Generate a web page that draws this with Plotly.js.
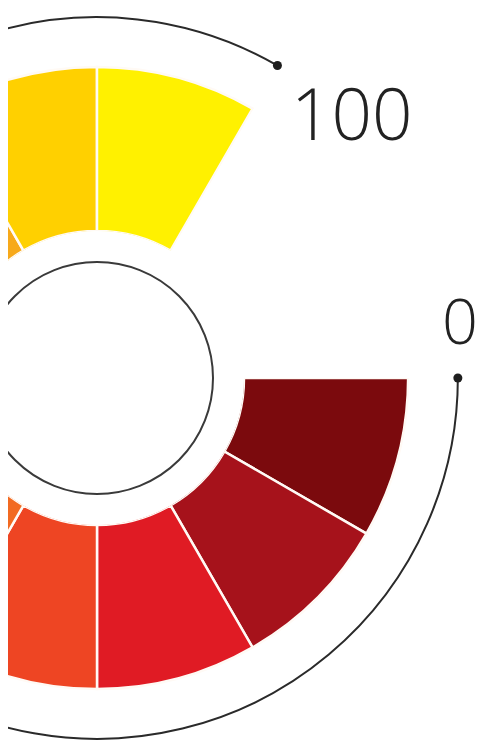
<!DOCTYPE html>
<html>
<head>
<meta charset="utf-8">
<script src="https://cdn.plot.ly/plotly-3.0.1.min.js"></script>
<style>
  html, body { margin: 0; padding: 0; background: #ffffff; overflow: hidden; width: 479px; height: 740px; }
  #clip { position: absolute; left: 8px; top: 0; width: 471px; height: 740px; overflow: hidden; background: #ffffff; }
  #chart { position: absolute; left: -311px; top: 16px; width: 800px; height: 724px; }
</style>
</head>
<body>
<div id="clip"><div id="chart"></div></div>
<script>
// ---- data (gauge bins, 0–100) ----
const binLabels = ["0–10", "10–20", "20–30", "30–40", "40–50", "50–60", "60–70", "70–80", "80–90", "90–100"];
const binStart  = [0, 10, 20, 30, 40, 50, 60, 70, 80, 90];
const binSize   = 10;
const barValue  = [1, 1, 1, 1, 1, 1, 1, 1, 1, 1];
const barColors = ["#7b0a0d", "#a6121b", "#e01b24", "#ee4523", "#f26a21", "#f68a1f", "#f89d1c", "#f7a91a", "#ffd000", "#fff100"];
const scaleMin  = 0;
const scaleMax  = 100;
const tickLabels = ["0", "100"];

// ---- styling / geometry ----
const DEG_PER_UNIT = 300 / (scaleMax - scaleMin);   // gauge spans 300°, clockwise from east
const R_MAX = 1.31;        // radial axis range
const ARC_R = 1.303;       // radius of the scale arc
const HOLE = 147 / 362;

const theta = binStart.map(v => (v - scaleMin + binSize / 2) * DEG_PER_UNIT);
const arcEnds = [scaleMin, scaleMax].map(v => (v - scaleMin) * DEG_PER_UNIT);

// div geometry: 800x724, polar centre at (400,362), outer radius 362
const W = 800, H = 724, CX = 400, CY = 362, ROUT = 362, RIN = 116;

const bars = {
  type: 'barpolar',
  r: barValue,
  theta: theta,
  width: binSize * DEG_PER_UNIT,
  text: binLabels,
  marker: { color: barColors, line: { color: '#fffaf5', width: 2.5 } },
  hoverinfo: 'skip',
  showlegend: false
};

const endDots = {
  type: 'scatterpolar',
  mode: 'markers',
  r: [ARC_R, ARC_R],
  theta: arcEnds,
  marker: { size: 9, color: '#1e1e1e' },
  cliponaxis: false,
  hoverinfo: 'skip',
  showlegend: false
};

const innerRing = {
  type: 'scatterpolar',
  subplot: 'polar2',
  mode: 'markers',
  r: [],
  theta: [],
  hoverinfo: 'skip',
  showlegend: false
};

// tick label placement: pixel radius and screen angle (ccw from east), converted to paper coords
function toPaper(rPx, angDeg) {
  const a = angDeg * Math.PI / 180;
  return { x: (CX + rPx * Math.cos(a)) / W, y: (H - CY + rPx * Math.sin(a)) / H };
}
const labelPos = [toPaper(367.6, 9.1), toPaper(368.5, 46.2)];
const labelSize = [63, 71];

const annotations = tickLabels.map((t, i) => ({
  xref: 'paper', yref: 'paper',
  x: labelPos[i].x, y: labelPos[i].y,
  xanchor: 'center', yanchor: 'middle',
  text: t,
  showarrow: false,
  font: { family: 'Open Sans, sans-serif', size: labelSize[i], color: '#222222', weight: 300 }
}));

const layout = {
  width: W, height: H,
  margin: { l: 0, r: 0, t: 0, b: 0 },
  paper_bgcolor: 'rgba(0,0,0,0)',
  showlegend: false,
  annotations: annotations,
  polar: {
    domain: { x: [0, 1], y: [0, 1] },
    sector: [59.8, 360],
    hole: HOLE,
    bgcolor: 'rgba(0,0,0,0)',
    bargap: 0,
    radialaxis: {
      range: [0, R_MAX],
      visible: true,
      showline: false,
      showticklabels: false,
      ticks: '',
      showgrid: true,
      tickvals: [ARC_R],
      gridcolor: '#2a2a2a',
      gridwidth: 2
    },
    angularaxis: {
      direction: 'clockwise',
      rotation: 0,
      showline: false,
      showgrid: false,
      showticklabels: false,
      ticks: ''
    }
  },
  polar2: {
    domain: { x: [(CX - RIN) / W, (CX + RIN) / W], y: [(CY - RIN) / H, (CY + RIN) / H] },
    bgcolor: '#ffffff',
    radialaxis: { visible: false },
    angularaxis: {
      showline: true,
      linecolor: '#3a3a3a',
      linewidth: 2,
      showgrid: false,
      showticklabels: false,
      ticks: ''
    }
  }
};

Plotly.newPlot('chart', [bars, endDots, innerRing], layout, { staticPlot: true, displayModeBar: false });
</script>
</body>
</html>
